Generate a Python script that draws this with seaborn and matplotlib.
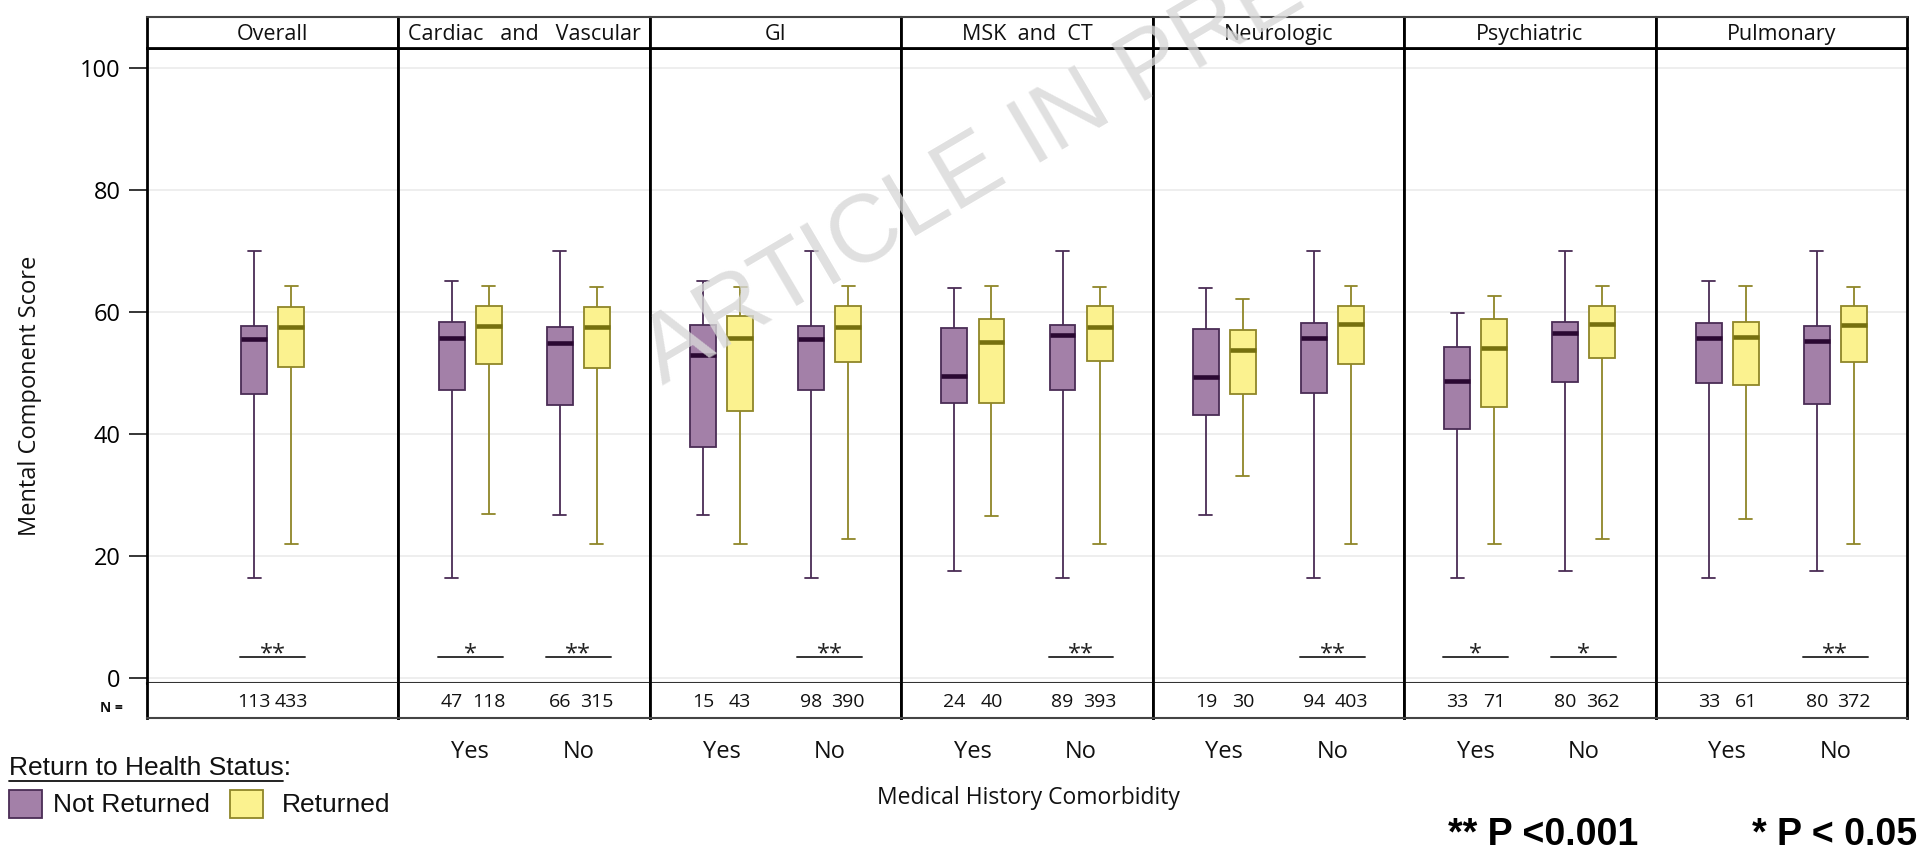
import numpy as np
import pandas as pd
import matplotlib
matplotlib.use("Agg")
import matplotlib.pyplot as plt
from matplotlib.patches import Rectangle
from matplotlib.lines import Line2D
import seaborn as sns

# ---------------- data ----------------
panel_titles = ["Overall", "Cardiac   and   Vascular", "GI", "MSK  and  CT",
                "Neurologic", "Psychiatric", "Pulmonary"]
group_panel = [0, 1, 1, 2, 2, 3, 3, 4, 4, 5, 5, 6, 6]
group_comorb = ["All", "Yes", "No", "Yes", "No", "Yes", "No",
                "Yes", "No", "Yes", "No", "Yes", "No"]
statuses = ["Not Returned", "Returned"]

# five-number summaries, Not Returned
nr_min = [16.4, 16.4, 26.8, 26.8, 16.4, 17.5, 16.4, 26.8, 16.4, 16.4, 17.5, 16.4, 17.5]
nr_q1 = [46.6, 47.2, 44.7, 37.9, 47.2, 45.1, 47.2, 43.2, 46.7, 40.8, 48.5, 48.4, 45.0]
nr_med = [55.6, 55.7, 55.0, 53.0, 55.6, 49.5, 56.2, 49.3, 55.7, 48.7, 56.5, 55.7, 55.3]
nr_q3 = [57.7, 58.4, 57.6, 57.8, 57.7, 57.4, 57.8, 57.3, 58.2, 54.3, 58.4, 58.2, 57.7]
nr_max = [70.0, 65.1, 70.0, 65.1, 70.0, 64.0, 70.0, 64.0, 70.0, 59.8, 70.0, 65.1, 70.0]

# five-number summaries, Returned
rt_min = [21.9, 26.9, 21.9, 21.9, 22.8, 26.5, 21.9, 33.1, 21.9, 21.9, 22.8, 26.0, 21.9]
rt_q1 = [51.0, 51.5, 50.9, 43.8, 51.8, 45.1, 51.9, 46.5, 51.5, 44.5, 52.5, 48.0, 51.8]
rt_med = [57.5, 57.7, 57.5, 55.8, 57.5, 55.1, 57.5, 53.8, 58.0, 54.1, 58.1, 55.9, 57.8]
rt_q3 = [60.8, 61.0, 60.8, 59.4, 61.0, 58.9, 61.0, 57.0, 61.0, 58.9, 61.0, 58.4, 61.0]
rt_max = [64.2, 64.2, 64.1, 64.1, 64.2, 64.2, 64.1, 62.1, 64.2, 62.7, 64.2, 64.2, 64.1]

n_not_returned = [113, 47, 66, 15, 98, 24, 89, 19, 94, 33, 80, 33, 80]
n_returned = [433, 118, 315, 43, 390, 40, 393, 30, 403, 71, 362, 61, 372]
significance = ["**", "*", "**", "", "**", "", "**", "", "**", "*", "*", "", "**"]

yticks = [0, 20, 40, 60, 80, 100]

# long-form table: each box is described by its five summary values
rows = []
summaries = {statuses[0]: (nr_min, nr_q1, nr_med, nr_q3, nr_max),
             statuses[1]: (rt_min, rt_q1, rt_med, rt_q3, rt_max)}
for g in range(len(group_panel)):
    for status, arrays in summaries.items():
        for arr in arrays:
            rows.append({"panel": group_panel[g], "comorb": group_comorb[g],
                         "status": status, "score": arr[g]})
df = pd.DataFrame(rows)

# ---------------- style ----------------
sns.set_theme(style="white")
plt.rcParams["font.family"] = ["Open Sans", "DejaVu Sans"]

purple_fill, purple_edge, purple_med = "#a380a8", "#4a2c55", "#2a0832"
yellow_fill, yellow_edge, yellow_med = "#fbf28f", "#8f8628", "#75700e"

W, H = 1927, 850
fig = plt.figure(figsize=(W / 100, H / 100), dpi=100)


def fx(px):
    return px / W


def fy(py):
    return 1 - py / H


left0, pw = 147.0, 251.43
plot_top, plot_bot = 48.0, 683.0
head_top = 17.0
nrow_bot = 718.0
half = 0.685 / 4  # dodge offset of each hue box

for i, title in enumerate(panel_titles):
    x0 = left0 + i * pw
    ax = fig.add_axes([fx(x0), fy(plot_bot), fx(pw), (plot_bot - plot_top) / H])
    sub = df[df["panel"] == i]
    order = ["All"] if i == 0 else ["Yes", "No"]
    sns.boxplot(data=sub, x="comorb", y="score", hue="status", order=order,
                hue_order=statuses, palette=[purple_fill, yellow_fill],
                saturation=1, width=0.685, gap=0.3, whis=(0, 100),
                linewidth=1.3, fliersize=0, legend=False, ax=ax)
    for cont in ax.containers:
        fc = cont.boxes[0].get_facecolor()
        is_purple = fc[0] < 0.8
        ec = purple_edge if is_purple else yellow_edge
        mc = purple_med if is_purple else yellow_med
        for b in cont.boxes:
            b.set_edgecolor(ec)
            b.set_linewidth(1.3)
        for ln in list(cont.whiskers) + list(cont.caps):
            ln.set_color(ec)
            ln.set_linewidth(1.3)
        for ln in cont.medians:
            ln.set_color(mc)
            ln.set_linewidth(3.3)

    if i == 0:
        ax.set_xlim(-1.163, 1.163)
    else:
        ax.set_xlim(-0.663, 1.663)
    ax.set_ylim(-0.82, 103.3)
    ax.set_xlabel("")
    ax.set_ylabel("")
    ax.set_xticks([])
    ax.set_yticks(yticks)
    ax.grid(axis="y", color="#ebebeb", linewidth=1.2)
    ax.grid(axis="x", visible=False)
    ax.set_axisbelow(True)
    for s in ax.spines.values():
        s.set_color("black")
        s.set_linewidth(2)
    ax.spines["bottom"].set_linewidth(1.5)
    ax.spines["bottom"].set_color("#333333")
    if i == 0:
        ax.tick_params(axis="y", left=True, length=13, width=1.1, color="black",
                       labelsize=17, pad=6, labelcolor="black")
    else:
        ax.tick_params(axis="y", left=False, labelleft=False)

    # significance brackets
    gidx = [g for g in range(len(group_panel)) if group_panel[g] == i]
    for pos, g in enumerate(gidx):
        if significance[g]:
            ax.plot([pos - 0.3, pos + 0.3], [3.4, 3.4], color="#333333", lw=1.4)
            ax.text(pos, 2.9, significance[g], ha="center", va="baseline",
                    fontsize=17, color="#222222")

    # panel header
    hax = fig.add_axes([fx(x0), fy(plot_top), fx(pw), (plot_top - head_top) / H])
    hax.set_xticks([])
    hax.set_yticks([])
    for s in hax.spines.values():
        s.set_color("black")
        s.set_linewidth(2)
    hax.spines["top"].set_color("#444444")
    hax.spines["top"].set_linewidth(1.5)
    hax.text(0.5, 0.45, title, ha="center", va="center", fontsize=15.5,
             transform=hax.transAxes, color="#111111")

    # N row
    nax = fig.add_axes([fx(x0), fy(nrow_bot), fx(pw), (nrow_bot - plot_bot) / H])
    nax.set_xlim(ax.get_xlim())
    nax.set_ylim(0, 1)
    nax.set_yticks([])
    for s in nax.spines.values():
        s.set_color("black")
        s.set_linewidth(2)
    nax.spines["bottom"].set_color("#444444")
    nax.spines["bottom"].set_linewidth(1.5)
    nax.spines["top"].set_visible(False)
    for pos, g in enumerate(gidx):
        nax.text(pos - half, 0.45, str(n_not_returned[g]), ha="center", va="center",
                 fontsize=14, color="#111111")
        nax.text(pos + half, 0.45, str(n_returned[g]), ha="center", va="center",
                 fontsize=14, color="#111111")
    if i == 0:
        nax.set_xticks([])
    else:
        nax.set_xticks([0, 1])
        nax.set_xticklabels(["Yes", "No"], fontsize=17)
        nax.tick_params(axis="x", bottom=False, length=0, pad=16, labelcolor="#111111")

fig.text(fx(111), fy(708), "N =", ha="center", va="center", fontsize=10,
         weight="bold", color="#111111")

fig.text(fx(30), fy(396), "Mental Component Score", rotation=90, ha="center",
         va="center", fontsize=17, color="#111111")
fig.text(fx(1028), fy(798), "Medical History Comorbidity", ha="center",
         va="center", fontsize=16.5, color="#111111")

# legend
arial = ["Liberation Sans", "DejaVu Sans"]
fig.text(fx(9), fy(768), "Return to Health Status:", ha="left", va="center",
         fontsize=19, family=arial, color="#111111")
fig.add_artist(Line2D([fx(9), fx(283)], [fy(781), fy(781)], color="#111111",
                      lw=1.3, transform=fig.transFigure))
fig.add_artist(Rectangle((fx(9), fy(818)), fx(33), (818 - 790) / H,
                         facecolor=purple_fill, edgecolor=purple_edge, lw=1.3,
                         transform=fig.transFigure))
fig.text(fx(53), fy(805), "Not Returned", ha="left", va="center",
         fontsize=19, family=arial, color="#111111")
fig.add_artist(Rectangle((fx(230), fy(818)), fx(33), (818 - 790) / H,
                         facecolor=yellow_fill, edgecolor=yellow_edge, lw=1.3,
                         transform=fig.transFigure))
fig.text(fx(282), fy(805), "Returned", ha="left", va="center",
         fontsize=19, family=arial, color="#111111")

# p-value key
fig.text(fx(1448), fy(845), "** P <0.001", ha="left", va="baseline",
         fontsize=27, weight="bold", family=arial, color="black")
fig.text(fx(1752), fy(845), "* P < 0.05", ha="left", va="baseline",
         fontsize=27, weight="bold", family=arial, color="black")

# watermark
fig.text(fx(662), fy(385), "ARTICLE IN PRESS", rotation=30.5, rotation_mode="anchor",
         ha="left", va="baseline", fontsize=69, family=arial, color="#d8d8d8",
         alpha=0.8, zorder=20)

fig.savefig("out.png", dpi=100)
